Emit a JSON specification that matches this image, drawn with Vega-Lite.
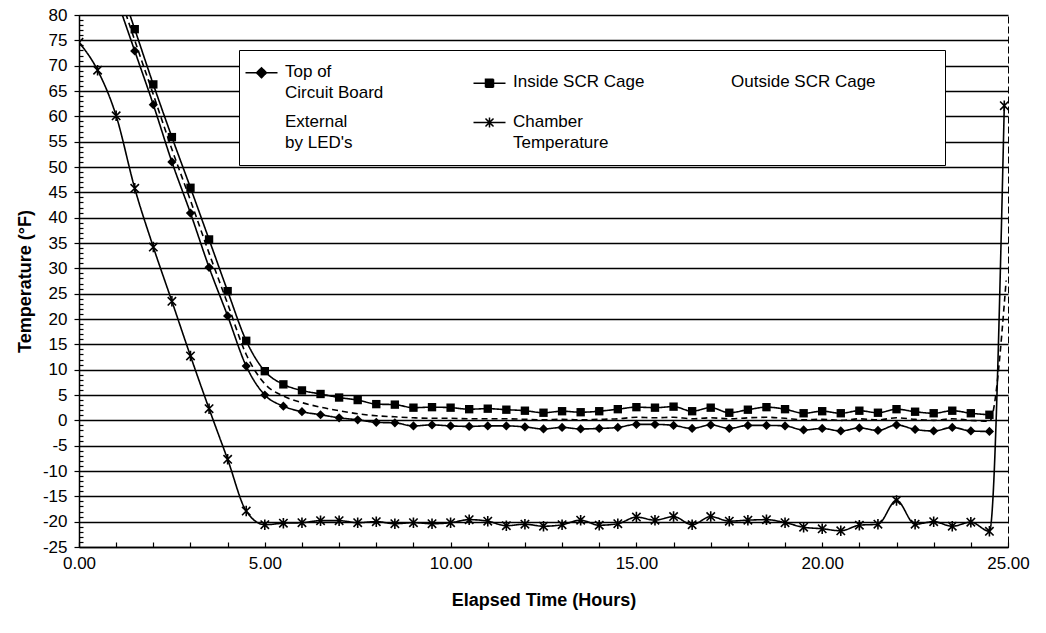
{
  "$schema": "https://vega.github.io/schema/vega-lite/v6.json",
  "width": 929,
  "height": 532,
  "autosize": {"type": "none"},
  "padding": {"left": 79, "top": 15, "right": 38, "bottom": 86},
  "background": "white",
  "config": {
    "font": "Liberation Sans",
    "view": {"stroke": "black", "strokeWidth": 1, "strokeDash": [7, 3]},
    "axis": {
      "domainColor": "black", "domainWidth": 1.5, "tickColor": "black", "tickWidth": 1.2,
      "labelColor": "black", "titleColor": "black", "labelFont": "Liberation Sans", "titleFont": "Liberation Sans"
    },
    "legend": {"labelFont": "Liberation Sans", "labelColor": "black", "titleFont": "Liberation Sans"}
  },
  "data": {
    "values": [
      {"s": "chamber", "t": 0, "v": 74.6}, {"s": "chamber", "t": 0.5, "v": 69.1}, {"s": "chamber", "t": 1, "v": 60.1},
      {"s": "chamber", "t": 1.5, "v": 45.8}, {"s": "chamber", "t": 2, "v": 34.2}, {"s": "chamber", "t": 2.5, "v": 23.5},
      {"s": "chamber", "t": 3, "v": 12.7}, {"s": "chamber", "t": 3.5, "v": 2.3}, {"s": "chamber", "t": 4, "v": -7.7},
      {"s": "chamber", "t": 4.5, "v": -17.9}, {"s": "chamber", "t": 5, "v": -20.6}, {"s": "chamber", "t": 5.5, "v": -20.3},
      {"s": "chamber", "t": 6, "v": -20.2}, {"s": "chamber", "t": 6.5, "v": -19.8}, {"s": "chamber", "t": 7, "v": -19.8},
      {"s": "chamber", "t": 7.5, "v": -20.2}, {"s": "chamber", "t": 8, "v": -20.0}, {"s": "chamber", "t": 8.5, "v": -20.4},
      {"s": "chamber", "t": 9, "v": -20.2}, {"s": "chamber", "t": 9.5, "v": -20.4}, {"s": "chamber", "t": 10, "v": -20.2},
      {"s": "chamber", "t": 10.5, "v": -19.6}, {"s": "chamber", "t": 11, "v": -19.9}, {"s": "chamber", "t": 11.5, "v": -20.8},
      {"s": "chamber", "t": 12, "v": -20.5}, {"s": "chamber", "t": 12.5, "v": -20.9}, {"s": "chamber", "t": 13, "v": -20.6},
      {"s": "chamber", "t": 13.5, "v": -19.7}, {"s": "chamber", "t": 14, "v": -20.7}, {"s": "chamber", "t": 14.5, "v": -20.4},
      {"s": "chamber", "t": 15, "v": -19.1}, {"s": "chamber", "t": 15.5, "v": -19.7}, {"s": "chamber", "t": 16, "v": -19.0},
      {"s": "chamber", "t": 16.5, "v": -20.6}, {"s": "chamber", "t": 17, "v": -19.0}, {"s": "chamber", "t": 17.5, "v": -19.9},
      {"s": "chamber", "t": 18, "v": -19.7}, {"s": "chamber", "t": 18.5, "v": -19.6}, {"s": "chamber", "t": 19, "v": -20.2},
      {"s": "chamber", "t": 19.5, "v": -21.1}, {"s": "chamber", "t": 20, "v": -21.4}, {"s": "chamber", "t": 20.5, "v": -21.8},
      {"s": "chamber", "t": 21, "v": -20.7}, {"s": "chamber", "t": 21.5, "v": -20.5}, {"s": "chamber", "t": 22, "v": -15.8},
      {"s": "chamber", "t": 22.5, "v": -20.5}, {"s": "chamber", "t": 23, "v": -20.0}, {"s": "chamber", "t": 23.5, "v": -20.9},
      {"s": "chamber", "t": 24, "v": -20.1}, {"s": "chamber", "t": 24.5, "v": -21.9}, {"s": "chamber", "t": 24.9, "v": 62.1},

      {"s": "top", "t": 1, "v": 83.5}, {"s": "top", "t": 1.5, "v": 72.9}, {"s": "top", "t": 2, "v": 62.3},
      {"s": "top", "t": 2.5, "v": 51.0}, {"s": "top", "t": 3, "v": 40.9}, {"s": "top", "t": 3.5, "v": 30.2},
      {"s": "top", "t": 4, "v": 20.6}, {"s": "top", "t": 4.5, "v": 10.7}, {"s": "top", "t": 5, "v": 5.0},
      {"s": "top", "t": 5.5, "v": 2.8}, {"s": "top", "t": 6, "v": 1.7}, {"s": "top", "t": 6.5, "v": 1.1},
      {"s": "top", "t": 7, "v": 0.5}, {"s": "top", "t": 7.5, "v": 0.1}, {"s": "top", "t": 8, "v": -0.4},
      {"s": "top", "t": 8.5, "v": -0.5}, {"s": "top", "t": 9, "v": -1.1}, {"s": "top", "t": 9.5, "v": -0.9},
      {"s": "top", "t": 10, "v": -1.1}, {"s": "top", "t": 10.5, "v": -1.2}, {"s": "top", "t": 11, "v": -1.1},
      {"s": "top", "t": 11.5, "v": -1.1}, {"s": "top", "t": 12, "v": -1.3}, {"s": "top", "t": 12.5, "v": -1.7},
      {"s": "top", "t": 13, "v": -1.4}, {"s": "top", "t": 13.5, "v": -1.7}, {"s": "top", "t": 14, "v": -1.6},
      {"s": "top", "t": 14.5, "v": -1.4}, {"s": "top", "t": 15, "v": -0.8}, {"s": "top", "t": 15.5, "v": -0.8},
      {"s": "top", "t": 16, "v": -1.0}, {"s": "top", "t": 16.5, "v": -1.6}, {"s": "top", "t": 17, "v": -0.9},
      {"s": "top", "t": 17.5, "v": -1.6}, {"s": "top", "t": 18, "v": -1.0}, {"s": "top", "t": 18.5, "v": -1.0},
      {"s": "top", "t": 19, "v": -1.1}, {"s": "top", "t": 19.5, "v": -1.9}, {"s": "top", "t": 20, "v": -1.6},
      {"s": "top", "t": 20.5, "v": -2.1}, {"s": "top", "t": 21, "v": -1.5}, {"s": "top", "t": 21.5, "v": -2.0},
      {"s": "top", "t": 22, "v": -0.9}, {"s": "top", "t": 22.5, "v": -1.8}, {"s": "top", "t": 23, "v": -2.1},
      {"s": "top", "t": 23.5, "v": -1.4}, {"s": "top", "t": 24, "v": -2.1}, {"s": "top", "t": 24.5, "v": -2.2},

      {"s": "inside", "t": 1, "v": 88.0}, {"s": "inside", "t": 1.5, "v": 77.2}, {"s": "inside", "t": 2, "v": 66.3},
      {"s": "inside", "t": 2.5, "v": 55.9}, {"s": "inside", "t": 3, "v": 45.9}, {"s": "inside", "t": 3.5, "v": 35.7},
      {"s": "inside", "t": 4, "v": 25.5}, {"s": "inside", "t": 4.5, "v": 15.7}, {"s": "inside", "t": 5, "v": 9.7},
      {"s": "inside", "t": 5.5, "v": 7.1}, {"s": "inside", "t": 6, "v": 5.9}, {"s": "inside", "t": 6.5, "v": 5.2},
      {"s": "inside", "t": 7, "v": 4.5}, {"s": "inside", "t": 7.5, "v": 4.0}, {"s": "inside", "t": 8, "v": 3.2},
      {"s": "inside", "t": 8.5, "v": 3.1}, {"s": "inside", "t": 9, "v": 2.5}, {"s": "inside", "t": 9.5, "v": 2.6},
      {"s": "inside", "t": 10, "v": 2.5}, {"s": "inside", "t": 10.5, "v": 2.2}, {"s": "inside", "t": 11, "v": 2.3},
      {"s": "inside", "t": 11.5, "v": 2.1}, {"s": "inside", "t": 12, "v": 1.9}, {"s": "inside", "t": 12.5, "v": 1.5},
      {"s": "inside", "t": 13, "v": 1.8}, {"s": "inside", "t": 13.5, "v": 1.6}, {"s": "inside", "t": 14, "v": 1.8},
      {"s": "inside", "t": 14.5, "v": 2.2}, {"s": "inside", "t": 15, "v": 2.6}, {"s": "inside", "t": 15.5, "v": 2.5},
      {"s": "inside", "t": 16, "v": 2.7}, {"s": "inside", "t": 16.5, "v": 1.8}, {"s": "inside", "t": 17, "v": 2.5},
      {"s": "inside", "t": 17.5, "v": 1.5}, {"s": "inside", "t": 18, "v": 2.1}, {"s": "inside", "t": 18.5, "v": 2.6},
      {"s": "inside", "t": 19, "v": 2.2}, {"s": "inside", "t": 19.5, "v": 1.4}, {"s": "inside", "t": 20, "v": 1.8},
      {"s": "inside", "t": 20.5, "v": 1.4}, {"s": "inside", "t": 21, "v": 1.9}, {"s": "inside", "t": 21.5, "v": 1.5},
      {"s": "inside", "t": 22, "v": 2.2}, {"s": "inside", "t": 22.5, "v": 1.7}, {"s": "inside", "t": 23, "v": 1.4},
      {"s": "inside", "t": 23.5, "v": 1.9}, {"s": "inside", "t": 24, "v": 1.4}, {"s": "inside", "t": 24.5, "v": 1.1},

      {"s": "outside", "t": 1, "v": 86.0}, {"s": "outside", "t": 1.5, "v": 75.0}, {"s": "outside", "t": 2, "v": 64.3},
      {"s": "outside", "t": 2.5, "v": 53.5}, {"s": "outside", "t": 3, "v": 43.4}, {"s": "outside", "t": 3.5, "v": 33.0},
      {"s": "outside", "t": 4, "v": 23.0}, {"s": "outside", "t": 4.5, "v": 13.0}, {"s": "outside", "t": 5, "v": 7.2},
      {"s": "outside", "t": 5.5, "v": 4.8}, {"s": "outside", "t": 6, "v": 3.5}, {"s": "outside", "t": 6.5, "v": 2.6},
      {"s": "outside", "t": 7, "v": 1.9}, {"s": "outside", "t": 7.5, "v": 1.3}, {"s": "outside", "t": 8, "v": 0.9},
      {"s": "outside", "t": 8.5, "v": 0.7}, {"s": "outside", "t": 9, "v": 0.5}, {"s": "outside", "t": 9.5, "v": 0.4},
      {"s": "outside", "t": 10, "v": 0.4}, {"s": "outside", "t": 10.5, "v": 0.3}, {"s": "outside", "t": 11, "v": 0.3},
      {"s": "outside", "t": 11.5, "v": 0.3}, {"s": "outside", "t": 12, "v": 0.2}, {"s": "outside", "t": 12.5, "v": 0.1},
      {"s": "outside", "t": 13, "v": 0.2}, {"s": "outside", "t": 13.5, "v": 0.1}, {"s": "outside", "t": 14, "v": 0.2},
      {"s": "outside", "t": 14.5, "v": 0.3}, {"s": "outside", "t": 15, "v": 0.6}, {"s": "outside", "t": 15.5, "v": 0.5},
      {"s": "outside", "t": 16, "v": 0.6}, {"s": "outside", "t": 16.5, "v": 0.3}, {"s": "outside", "t": 17, "v": 0.5},
      {"s": "outside", "t": 17.5, "v": 0.3}, {"s": "outside", "t": 18, "v": 0.5}, {"s": "outside", "t": 18.5, "v": 0.6},
      {"s": "outside", "t": 19, "v": 0.4}, {"s": "outside", "t": 19.5, "v": 0.1}, {"s": "outside", "t": 20, "v": 0.2},
      {"s": "outside", "t": 20.5, "v": 0.0}, {"s": "outside", "t": 21, "v": 0.3}, {"s": "outside", "t": 21.5, "v": 0.1},
      {"s": "outside", "t": 22, "v": 0.5}, {"s": "outside", "t": 22.5, "v": 0.2}, {"s": "outside", "t": 23, "v": 0.0},
      {"s": "outside", "t": 23.5, "v": 0.3}, {"s": "outside", "t": 24, "v": 0.0}, {"s": "outside", "t": 24.5, "v": -0.2},
      {"s": "outside", "t": 24.95, "v": 27.6}
    ]
  },
  "encoding": {
    "x": {
      "field": "t", "type": "quantitative",
      "scale": {"domain": [0, 25], "nice": false, "zero": false},
      "axis": {
        "values": [0,1,2,3,4,5,6,7,8,9,10,11,12,13,14,15,16,17,18,19,20,21,22,23,24,25],
        "labelExpr": "datum.value % 5 === 0 ? format(datum.value, '.2f') : ''",
        "labelOverlap": false, "labelFlush": false,
        "labelFontSize": 17, "labelPadding": 8,
        "tickSize": 0, "grid": false,
        "title": "Elapsed Time (Hours)", "titleFontSize": 18, "titleFontWeight": "bold", "titlePadding": 20,
        "encoding": {"ticks": {"y2": {"value": -5}}}
      }
    },
    "y": {
      "field": "v", "type": "quantitative",
      "scale": {"domain": [-25, 80], "nice": false, "zero": false},
      "axis": {
        "values": [-25,-24,-23,-22,-21,-20,-19,-18,-17,-16,-15,-14,-13,-12,-11,-10,-9,-8,-7,-6,-5,-4,-3,-2,-1,0,1,2,3,4,5,6,7,8,9,10,11,12,13,14,15,16,17,18,19,20,21,22,23,24,25,26,27,28,29,30,31,32,33,34,35,36,37,38,39,40,41,42,43,44,45,46,47,48,49,50,51,52,53,54,55,56,57,58,59,60,61,62,63,64,65,66,67,68,69,70,71,72,73,74,75,76,77,78,79,80],
        "labelExpr": "datum.value % 5 === 0 ? '' + datum.value : ''",
        "labelOverlap": false, "labelFontSize": 17, "labelPadding": 7,
        "tickSize": 5,
        "grid": true, "gridColor": "black", "gridWidth": 1.5,
        "gridOpacity": {"condition": {"test": "datum.value % 5 !== 0", "value": 0}, "value": 1},
        "title": "Temperature (°F)", "titleFontSize": 18, "titleFontWeight": "bold", "titlePadding": 8,
        "encoding": {"ticks": {"x2": {"value": {"expr": "datum.value % 5 === 0 ? -5 : 4"}}}}
      }
    }
  },
  "layer": [
    {
      "mark": {"type": "line", "interpolate": "monotone", "strokeWidth": 1.6, "clip": true},
      "encoding": {
        "color": {
          "field": "s", "type": "nominal",
          "scale": {"domain": ["top", "external", "inside", "chamber", "outside"], "range": ["black", "black", "black", "black", "black"]},
          "legend": {
            "orient": "none", "legendX": 160, "legendY": 35,
            "columns": 3, "columnPadding": 86, "rowPadding": 11, "gridAlign": "each",
            "title": "MMMM", "titleOrient": "right", "titleOpacity": 0, "titleFontSize": 15, "titlePadding": 5,
            "fillColor": "white", "strokeColor": "black", "padding": 14,
            "labelFontSize": 17, "labelLimit": 400, "labelOffset": 15, "labelBaseline": "top",
            "symbolSize": 100, "symbolStrokeWidth": 1.5,
            "labelExpr": "datum.value === 'top' ? ['Top of', 'Circuit Board'] : datum.value === 'external' ? ['External', \"by LED's\"] : datum.value === 'chamber' ? ['Chamber', 'Temperature'] : datum.value === 'inside' ? 'Inside SCR Cage' : 'Outside SCR Cage'",
            "encoding": {
              "symbols": {
                "shape": {"value": {"expr": "datum.value === 'top' ? 'M-3.2,0L3.2,0M0,-1L1,0L0,1L-1,0Z' : datum.value === 'inside' ? 'M-3.2,0L3.2,0M-0.8,-0.8L0.8,-0.8L0.8,0.8L-0.8,0.8Z' : datum.value === 'chamber' ? 'M-3.2,0L3.2,0M-0.8,-0.8L0.8,0.8M-0.8,0.8L0.8,-0.8M0,-1L0,1' : 'circle'"}},
                "opacity": {"value": {"expr": "datum.value === 'outside' || datum.value === 'external' ? 0 : 1"}},
                "fill": {"value": "black"},
                "stroke": {"value": "black"},
                "strokeWidth": {"value": 1.5}
              },
              "labels": {"dy": {"value": -9}, "lineHeight": {"value": 21}, "dx": {"value": {"expr": "datum.value === 'outside' ? -60 : 0"}}}
            }
          }
        },
        "strokeDash": {
          "field": "s", "type": "nominal",
          "scale": {"domain": ["top", "external", "inside", "chamber", "outside"], "range": [[1, 0], [1, 0], [1, 0], [1, 0], [6, 4]]},
          "legend": null
        }
      }
    },
    {
      "transform": [{"filter": "datum.s === 'top'"}],
      "mark": {"type": "point", "shape": "diamond", "filled": true, "size": 85, "color": "black", "opacity": 1, "clip": true}
    },
    {
      "transform": [{"filter": "datum.s === 'inside'"}],
      "mark": {"type": "point", "shape": "square", "filled": true, "size": 70, "color": "black", "opacity": 1, "clip": true}
    },
    {
      "transform": [{"filter": "datum.s === 'chamber'"}],
      "mark": {"type": "point", "shape": "M-0.8,-0.8L0.8,0.8M-0.8,0.8L0.8,-0.8M0,-1L0,1", "filled": false, "size": 110, "stroke": "black", "strokeWidth": 1.6, "opacity": 1, "clip": true}
    }
  ]
}
